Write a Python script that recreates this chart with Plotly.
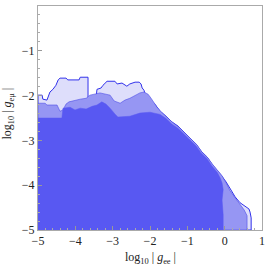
import plotly.graph_objects as go

# Outer (lightest) allowed region boundary, log10|g_ee| vs log10|g_emu|
outer_x = [-5.00, -4.89, -4.87, -4.76, -4.68, -4.60, -4.52, -4.46, -4.41, -4.25, -4.20, -3.90, -3.87,
           -3.66, -3.66, -3.45, -3.42, -3.31, -3.26, -3.15, -2.94, -2.88, -2.75, -2.62, -2.54, -2.40,
           -2.29, -2.24, -2.21, -2.16, -2.11, -2.00, -1.87, -1.73, -1.57, -1.41, -1.25, -1.12, -0.93,
           -0.77, -0.63, -0.47, -0.34, -0.20, -0.10, 0.04, 0.14, 0.28, 0.41, 0.55, 0.65, 0.68, 0.71,
           0.71, -5.00, -5.00]
outer_y = [-1.99, -1.99, -2.08, -2.10, -1.92, -1.86, -1.77, -1.65, -1.61, -1.61, -1.65, -1.65, -1.59,
           -1.59, -2.08, -2.08, -1.86, -1.83, -1.77, -1.68, -1.68, -1.74, -1.72, -1.79, -1.74, -1.70,
           -1.70, -1.74, -1.83, -1.88, -2.03, -2.12, -2.19, -2.35, -2.46, -2.59, -2.68, -2.79, -2.95,
           -3.08, -3.24, -3.37, -3.53, -3.66, -3.77, -3.93, -4.08, -4.26, -4.39, -4.48, -4.53, -4.60,
           -4.73, -5.00, -5.00, -1.99]

# Middle region
mid_x = [-5.00, -4.81, -4.76, -4.49, -4.41, -4.33, -4.25, -4.17, -3.87, -3.71, -3.61, -3.34, -3.07,
         -2.96, -2.80, -2.67, -2.54, -2.37, -2.27, -2.16, -2.05, -1.97, -1.89, -1.81, -1.68, -1.54,
         -1.38, -1.22, -1.09, -0.90, -0.74, -0.61, -0.45, -0.31, -0.18, -0.07, 0.04, 0.14, 0.28, 0.41,
         0.52, 0.60, 0.60, -5.00, -5.00]
mid_y = [-2.17, -2.17, -2.21, -2.21, -2.35, -2.32, -2.19, -2.14, -2.08, -2.06, -1.99, -1.94, -1.99,
         -2.12, -2.17, -2.10, -2.06, -1.99, -1.94, -1.92, -1.97, -2.06, -2.16, -2.26, -2.38, -2.49,
         -2.61, -2.71, -2.82, -2.97, -3.10, -3.26, -3.39, -3.55, -3.68, -3.79, -3.95, -4.12, -4.28,
         -4.42, -4.55, -4.68, -5.00, -5.00, -2.17]

# Inner (darkest) region
inner_x = [-5.00, -4.36, -4.33, -4.14, -4.01, -3.87, -3.71, -3.55, -3.42, -3.29, -3.18, -3.07, -2.94,
           -2.86, -2.54, -2.27, -2.00, -1.87, -1.73, -1.57, -1.41, -1.25, -1.12, -0.93, -0.77, -0.63,
           -0.47, -0.34, -0.20, -0.12, -0.07, -0.04, -0.07, -0.04, -0.04, -5.00, -5.00]
inner_y = [-2.50, -2.50, -2.28, -2.26, -2.32, -2.28, -2.30, -2.24, -2.21, -2.14, -2.19, -2.28, -2.41,
           -2.48, -2.46, -2.39, -2.37, -2.39, -2.42, -2.51, -2.64, -2.73, -2.84, -2.99, -3.12, -3.28,
           -3.41, -3.57, -3.71, -3.84, -3.95, -4.10, -4.33, -4.66, -5.00, -5.00, -2.50]

x_ticks = [-5, -4, -3, -2, -1, 0, 1]
y_ticks = [-5, -4, -3, -2, -1, 0]

FONT = "Liberation Serif"

fig = go.Figure()
fig.add_trace(go.Scatter(x=outer_x, y=outer_y, mode="lines", fill="toself",
                         fillcolor="rgb(222,222,251)", line=dict(color="rgb(50,50,235)", width=1),
                         hoverinfo="skip", showlegend=False))
fig.add_trace(go.Scatter(x=mid_x, y=mid_y, mode="lines", fill="toself",
                         fillcolor="rgb(150,150,243)", line=dict(color="rgba(70,70,230,0.7)", width=0.8),
                         hoverinfo="skip", showlegend=False))
fig.add_trace(go.Scatter(x=inner_x, y=inner_y, mode="lines", fill="toself",
                         fillcolor="rgb(88,88,242)", line=dict(color="rgba(88,88,242,1)", width=0.5),
                         hoverinfo="skip", showlegend=False))

axis_common = dict(showgrid=False, zeroline=False, showline=True, linecolor="#aaaaaa", linewidth=1,
                   mirror=True, ticks="inside", ticklen=4, tickcolor="#999999", tickwidth=1,
                   automargin=False,
                   tickfont=dict(family=FONT, size=12, color="#222222"),
                   minor=dict(ticks="inside", ticklen=2, tickcolor="#aaaaaa", dtick=0.2))


def lab(v):
    return f"\u2212{abs(v)}" if v < 0 else str(v)


fig.update_xaxes(range=[-5, 1], tickvals=x_ticks, ticktext=[lab(v) for v in x_ticks], **axis_common)
fig.update_yaxes(range=[-5, 0], tickvals=y_ticks, ticktext=[lab(v) for v in y_ticks], **axis_common)

fig.add_annotation(text="log<sub>10</sub> | <i>g</i><sub>ee</sub> |", xref="paper", yref="paper",
                   x=0.5, y=0, xanchor="center", yanchor="middle", yshift=-28, showarrow=False,
                   font=dict(family=FONT, size=12, color="#222222"))
fig.add_annotation(text="log<sub>10</sub> | <i>g</i><sub>e\u03bc</sub> |", xref="paper", yref="paper",
                   x=0, y=0.52, xanchor="center", yanchor="middle", xshift=-30, textangle=-90,
                   showarrow=False, font=dict(family=FONT, size=12, color="#222222"))

fig.update_layout(width=266, height=266, margin=dict(l=38, r=4, t=6, b=36, autoexpand=False),
                  paper_bgcolor="white", plot_bgcolor="white")

fig.write_html("out.html", config={"displayModeBar": False},
               post_script="document.body.style.margin='0';document.body.style.overflow='hidden';")
